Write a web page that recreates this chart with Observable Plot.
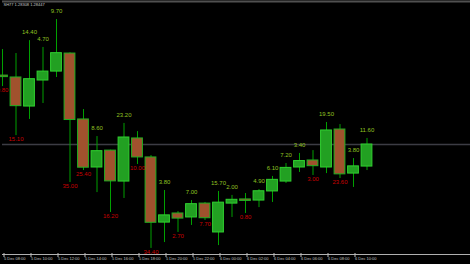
<!DOCTYPE html>
<html><head><meta charset="utf-8">
<script src="https://cdn.jsdelivr.net/npm/d3@7"></script>
<script src="https://cdn.jsdelivr.net/npm/@observablehq/plot@0.6"></script>
<style>html,body{margin:0;padding:0;background:#000;overflow:hidden}</style>
</head><body><div id="chart"></div>
<script>
const times = ["2012-12-05T08:00Z","2012-12-05T09:00Z","2012-12-05T10:00Z","2012-12-05T11:00Z","2012-12-05T12:00Z","2012-12-05T13:00Z","2012-12-05T14:00Z","2012-12-05T15:00Z","2012-12-05T16:00Z","2012-12-05T17:00Z","2012-12-05T18:00Z","2012-12-05T19:00Z","2012-12-05T20:00Z","2012-12-05T21:00Z","2012-12-05T22:00Z","2012-12-05T23:00Z","2012-12-06T00:00Z","2012-12-06T01:00Z","2012-12-06T02:00Z","2012-12-06T03:00Z","2012-12-06T04:00Z","2012-12-06T05:00Z","2012-12-06T06:00Z","2012-12-06T07:00Z","2012-12-06T08:00Z","2012-12-06T09:00Z","2012-12-06T10:00Z","2012-12-06T11:00Z"];
const opens = [1.28813,1.28803,1.28650,1.28787,1.28834,1.28929,1.28582,1.28329,1.28418,1.28255,1.28482,1.28382,1.28039,1.28087,1.28066,1.28139,1.27987,1.28139,1.28161,1.28155,1.28203,1.28255,1.28329,1.28366,1.28329,1.28529,1.28297,1.28334];
const closes = [1.28805,1.28652,1.28794,1.28834,1.28931,1.28579,1.28328,1.28415,1.28256,1.28487,1.28382,1.28038,1.28077,1.28060,1.28136,1.28062,1.28144,1.28159,1.28153,1.28204,1.28264,1.28327,1.28363,1.28336,1.28524,1.28293,1.28335,1.28450];
const highs = [1.28950,1.28929,1.28997,1.28961,1.29108,1.28933,1.28634,1.28492,1.28420,1.28561,1.28518,1.28392,1.28208,1.28097,1.28155,1.28145,1.28203,1.28182,1.28192,1.28213,1.28282,1.28350,1.28403,1.28418,1.28566,1.28555,1.28376,1.28482];
const lows = [1.28755,1.28497,1.28582,1.28666,1.28803,1.28250,1.28313,1.28197,1.28092,1.28166,1.28345,1.27903,1.27934,1.27987,1.28024,1.28050,1.27918,1.28066,1.28087,1.28118,1.28145,1.28245,1.28303,1.28287,1.28297,1.28271,1.28224,1.28313];
const labels = ["0.80","15.10","14.40","4.70","9.70","35.00","25.40","8.60","16.20","23.20","10.00","34.40","3.80","2.70","7.00","7.70","15.70","2.00","0.80","4.90","6.10","7.20","3.40","3.00","19.50","23.60","3.80","11.60"];
const bidPrice = 1.28450;
const tickTimes = ["2012-12-05T08:00Z","2012-12-05T10:00Z","2012-12-05T12:00Z","2012-12-05T14:00Z","2012-12-05T16:00Z","2012-12-05T18:00Z","2012-12-05T20:00Z","2012-12-05T22:00Z","2012-12-06T00:00Z","2012-12-06T02:00Z","2012-12-06T04:00Z","2012-12-06T06:00Z","2012-12-06T08:00Z","2012-12-06T10:00Z"];
const tickLabels = ["5 Dec 08:00","5 Dec 10:00","5 Dec 12:00","5 Dec 14:00","5 Dec 16:00","5 Dec 18:00","5 Dec 20:00","5 Dec 22:00","6 Dec 00:00","6 Dec 02:00","6 Dec 04:00","6 Dec 06:00","6 Dec 08:00","6 Dec 10:00"];
const headerText = "SH77 1.28308 1.28447";

const H = 3600e3;
const data = times.map((t, i) => ({
  t: new Date(t), open: opens[i], close: closes[i], high: highs[i], low: lows[i],
  label: labels[i], up: closes[i] >= opens[i]
}));
const ticks = tickTimes.map(t => new Date(t));
const t0 = new Date(times[0]);
const xDomain = [t0, new Date(+t0 + 468 / 13.5 * H)];
const yDomain = [1.27871, 1.29203];

const chart = Plot.plot({
  width: 470, height: 264,
  marginTop: 1, marginBottom: 10, marginLeft: 2, marginRight: 0,
  style: {background: "#000", color: "#c0c0c0", fontFamily: "Liberation Sans, Arial, sans-serif"},
  x: {type: "utc", domain: xDomain, label: null},
  y: {domain: yDomain, axis: null},
  marks: [
    Plot.ruleY([yDomain[1]], {stroke: "#505050", strokeWidth: 2}),
    Plot.ruleY([bidPrice], {stroke: "#3c3c44", strokeWidth: 1.5}),
    Plot.ruleY([yDomain[0]], {stroke: "#b0b0b0", strokeWidth: 1}),
    Plot.ruleX(data, {x: "t", y1: "low", y2: "high", stroke: "#00a000", strokeWidth: 1}),
    Plot.rect(data, {
      x1: d => new Date(+d.t - 0.4 * H), x2: d => new Date(+d.t + 0.4 * H),
      y1: "open", y2: "close",
      fill: d => d.up ? "#22a022" : "#a0522d",
      stroke: d => d.up ? "#30d030" : "#20b020", strokeWidth: 1
    }),
    Plot.text(data.filter(d => d.up), {x: "t", y: "high", text: "label", dy: -8.5, fill: "#90c020", fontSize: 6}),
    Plot.text(data.filter(d => !d.up), {x: "t", y: "low", text: "label", dy: 3.5, fill: "#c80000", fontSize: 6}),
    Plot.axisX(ticks, {anchor: "bottom", label: null, tickSize: 4, tickPadding: 0, textAnchor: "start", dx: 1.5, dy: -1,
      fontSize: 4, tickFormat: (d) => tickLabels[ticks.findIndex(t => +t === +d)], stroke: "#c0c0c0", fill: "#c0c0c0"}),
    Plot.text([headerText], {frameAnchor: "top-left", dx: 1, dy: 2, textAnchor: "start", lineAnchor: "top", fontSize: 4, fill: "#c8c8c8"})
  ]
});
document.getElementById("chart").appendChild(chart);
</script>
</body></html>
